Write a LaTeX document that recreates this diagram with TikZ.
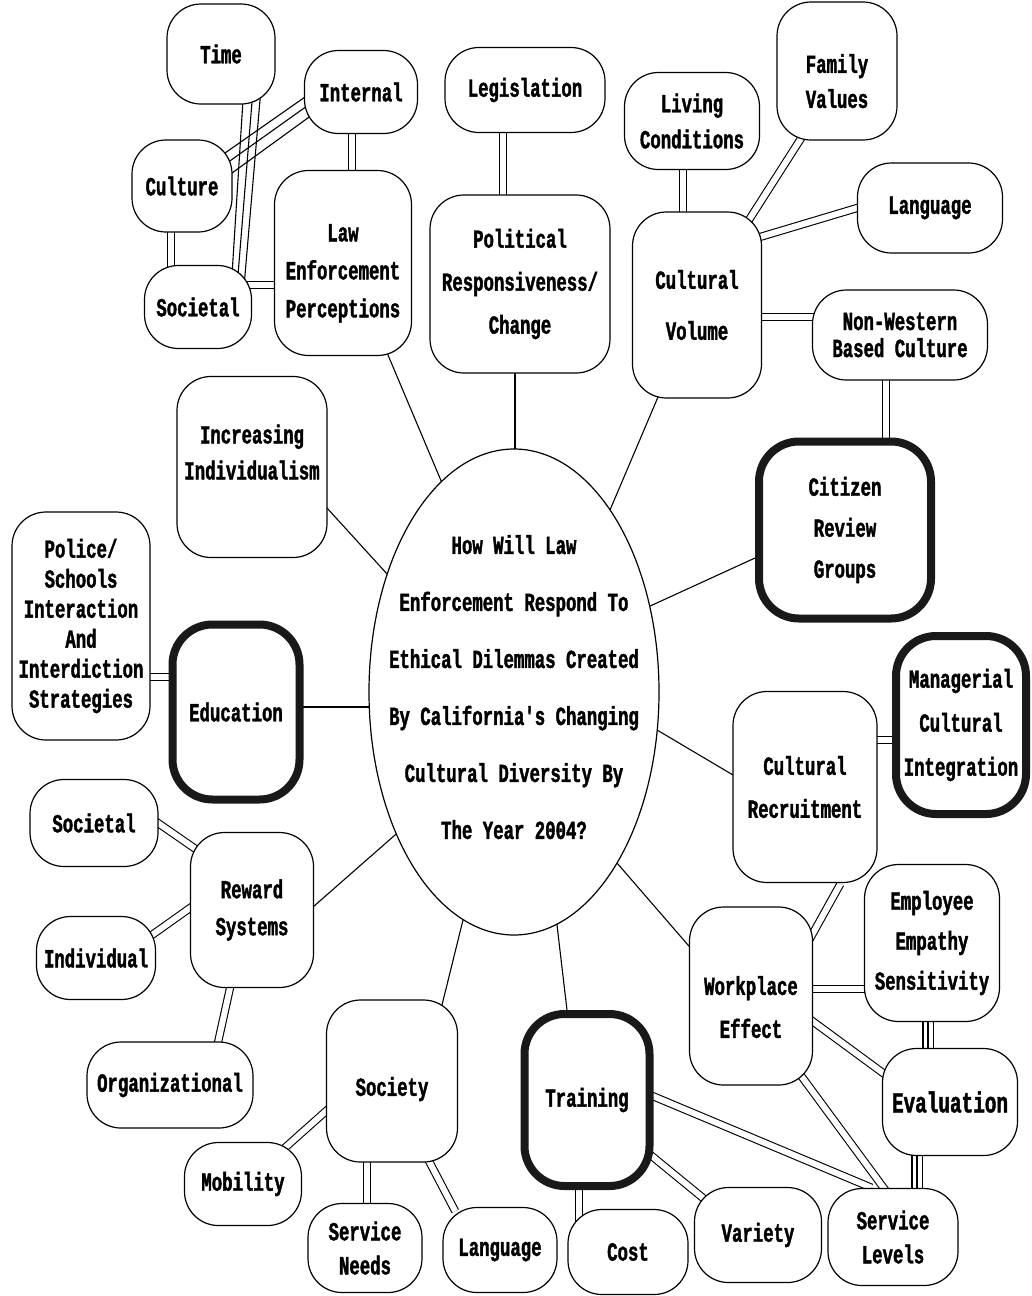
\documentclass[tikz,border=0pt]{standalone}
\usepackage{fontspec}
\newfontfamily\twf{Liberation Mono}[FakeStretch=0.667, BoldFeatures={FakeBold=1.5}]
\usetikzlibrary{shapes.geometric,backgrounds}
\tikzset{
  tx/.style={font=\twf\bfseries\fontsize{26}{#1}\selectfont},
  tx/.default=38,
  bx/.style={draw, line width=1.2pt, rounded corners=34pt, fill=white, align=center, inner sep=1pt, tx},
  thk/.style={bx, line width=8pt, draw=black!90, rounded corners=40pt},
  conn/.style={line width=1.1pt, shorten <=-7pt, shorten >=-7pt},
  dbl/.style={conn, double, double distance=#1},
  dbl/.default=6pt,
}
\begin{document}
\begin{tikzpicture}[x=1pt,y=-1pt]
\useasboundingbox (0,0) rectangle (1031,1296);
% nodes
\node[bx, minimum width=108pt, minimum height=100pt] (time) at (221,54) {Time};
\node[bx, minimum width=113pt, minimum height=83pt] (internal) at (361,92) {Internal};
\node[bx, minimum width=100pt, minimum height=92pt] (culture) at (182,186) {Culture};
\node[bx, minimum width=107pt, minimum height=83pt] (socA) at (198,307) {Societal};
\node[bx, tx=38, text height=114pt, minimum width=137pt, minimum height=185pt] (lep) at (343,263) {Law\\Enforcement\\Perceptions};
\node[bx, minimum width=160pt, minimum height=85pt] (leg) at (525,90) {Legislation};
\node[bx, tx=43, minimum width=180pt, minimum height=178pt] (pol) at (520,284) {Political\\Responsiveness/\\Change};
\node[bx, tx=36, minimum width=135pt, minimum height=97pt] (living) at (692,121) {Living\\Conditions};
\node[bx, tx=35, text height=74pt, minimum width=120pt, minimum height=138pt] (family) at (837,71) {Family\\Values};
\node[bx, tx=51, minimum width=129pt, minimum height=186pt] (cv) at (697,305) {Cultural\\Volume};
\node[bx, minimum width=145pt, minimum height=90pt] (langA) at (930,208) {Language};
\node[bx, tx=27, minimum width=175pt, minimum height=90pt] (nonw) at (900,335) {Non-Western\\Based Culture};
\node[thk, tx=41, minimum width=172pt, minimum height=177pt] (citizen) at (845,530) {Citizen\\Review\\Groups};
\node[thk, tx=44, minimum width=130pt, minimum height=178pt] (manag) at (961,725) {Managerial\\Cultural\\Integration};
\node[bx, tx=43, minimum width=144pt, minimum height=191pt] (cr) at (805,787) {Cultural\\Recruitment};
\node[bx, tx=40, minimum width=135pt, minimum height=157pt] (emp) at (932,943) {Employee\\Empathy\\Sensitivity};
\node[bx, tx=43, text height=84pt, minimum width=123pt, minimum height=178pt] (work) at (751,996) {Workplace\\Effect};
\node[bx, font=\twf\bfseries\fontsize{29}{38}\selectfont, minimum width=135pt, minimum height=107pt] (eval) at (950,1102) {Evaluation};
\node[bx, tx=34, minimum width=130pt, minimum height=97pt] (sl) at (893,1237) {Service\\Levels};
\node[bx, minimum width=127pt, minimum height=95pt] (variety) at (758,1235) {Variety};
\node[bx, minimum width=120pt, minimum height=85pt] (cost) at (628,1252) {Cost};
\node[thk, minimum width=125pt, minimum height=172pt] (training) at (587,1100) {Training};
\node[bx, minimum width=114pt, minimum height=85pt] (langB) at (500,1250) {Language};
\node[bx, tx=34, minimum width=114pt, minimum height=89pt] (sneeds) at (365,1248) {Service\\Needs};
\node[bx, text height=35pt, minimum width=131pt, minimum height=162pt] (society) at (392,1081) {Society};
\node[bx, minimum width=117pt, minimum height=83pt] (mobility) at (243,1184) {Mobility};
\node[bx, minimum width=166pt, minimum height=86pt] (org) at (170,1085) {Organizational};
\node[bx, minimum width=119pt, minimum height=83pt] (indiv) at (96,958) {Individual};
\node[bx, minimum width=128pt, minimum height=87pt] (socB) at (94,823) {Societal};
\node[bx, tx=37, minimum width=123pt, minimum height=155pt] (reward) at (252,910) {Reward\\Systems};
\node[thk, minimum width=127pt, minimum height=175pt] (educ) at (236,712) {Education};
\node[bx, tx=30, minimum width=138pt, minimum height=228pt] (police) at (81,626) {Police/\\Schools\\Interaction\\And\\Interdiction\\Strategies};
\node[bx, tx=36, text depth=30pt, minimum width=150pt, minimum height=181pt] (incr) at (252,467) {Increasing\\Individualism};
\node[ellipse, draw, line width=1.2pt, fill=white, align=center, tx=57, text depth=10pt, minimum width=290pt, minimum height=486pt, inner xsep=-60pt, inner ysep=-100pt] (q) at (514,692) {How Will Law\\Enforcement Respond To\\Ethical Dilemmas Created\\By California's Changing\\Cultural Diversity By\\The Year 2004?};
% connectors
\begin{pgfonlayer}{background}
\fill[white] (0,0) rectangle (1031,1296);
\draw[conn] ([shift={(22,46)}]time.center) -- ([shift={(34,-32)}]socA.center);
\draw[conn] ([shift={(31,48)}]time.center) -- ([shift={(40,-32)}]socA.center);
\draw[conn] ([shift={(39,46)}]time.center) -- ([shift={(47,-32)}]socA.center);
\draw[conn] ([shift={(-56,5)}]internal.center) -- ([shift={(43,-33)}]culture.center);
\draw[conn] ([shift={(-54,14)}]internal.center) -- ([shift={(45,-23)}]culture.center);
\draw[conn] ([shift={(-49,23)}]internal.center) -- ([shift={(50,-13)}]culture.center);
\draw[dbl] ([shift={(-11,46)}]culture.center) -- ([shift={(-27,-42)}]socA.center);
\draw[dbl] ([shift={(54,-22)}]socA.center) -- ([shift={(-68,22)}]lep.center);
\draw[dbl] ([shift={(-9,41)}]internal.center) -- ([shift={(9,-93)}]lep.center);
\draw[dbl] ([shift={(-22,42)}]leg.center) -- ([shift={(-17,-89)}]pol.center);
\draw[dbl] ([shift={(-9,48)}]living.center) -- ([shift={(-14,-93)}]cv.center);
\draw[dbl] ([shift={(-37,69)}]family.center) -- ([shift={(50,-82)}]cv.center);
\draw[dbl] ([shift={(-73,0)}]langA.center) -- ([shift={(63,-68)}]cv.center);
\draw[dbl] ([shift={(65,12)}]cv.center) -- ([shift={(-88,-18)}]nonw.center);
\draw[dbl] ([shift={(-14,45)}]nonw.center) -- ([shift={(41,-88)}]citizen.center);
\draw[conn] ([shift={(134,-85)}]q.center) -- ([shift={(-90,28)}]citizen.center);
\draw[conn] ([shift={(138,35)}]q.center) -- ([shift={(-72,-12)}]cr.center);
\draw[dbl] ([shift={(72,-47)}]cr.center) -- ([shift={(-65,15)}]manag.center);
\draw[dbl] ([shift={(32,103)}]cr.center) -- ([shift={(61,-61)}]work.center);
\draw[conn] ([shift={(103,171)}]q.center) -- ([shift={(-63,-51)}]work.center);
\draw[dbl] ([shift={(62,-7)}]work.center) -- ([shift={(-67,46)}]emp.center);
\draw[dbl=9pt] ([shift={(-4,79)}]emp.center) -- ([shift={(-22,-54)}]eval.center);
\draw[conn] ([shift={(-4,79)}]emp.center) -- ([shift={(-22,-54)}]eval.center);
\draw[dbl] ([shift={(64,27)}]work.center) -- ([shift={(-67,-29)}]eval.center);
\draw[dbl] ([shift={(51,81)}]work.center) -- ([shift={(-10,-50)}]sl.center);
\draw[dbl] ([shift={(68,-3)}]training.center) -- ([shift={(-28,-52)}]sl.center);
\draw[dbl] ([shift={(66,57)}]training.center) -- ([shift={(-55,-37)}]variety.center);
\draw[dbl] ([shift={(-8,88)}]training.center) -- ([shift={(-49,-32)}]cost.center);
\draw[dbl=9pt] ([shift={(-33,53)}]eval.center) -- ([shift={(24,-49)}]sl.center);
\draw[conn] ([shift={(-33,53)}]eval.center) -- ([shift={(24,-49)}]sl.center);
\draw[conn] ([shift={(43,233)}]q.center) -- ([shift={(-20,-90)}]training.center);
\draw[conn] ([shift={(-51,228)}]q.center) -- ([shift={(50,-76)}]society.center);
\draw[dbl] ([shift={(-67,31)}]society.center) -- ([shift={(45,-39)}]mobility.center);
\draw[dbl] ([shift={(-25,81)}]society.center) -- ([shift={(2,-44)}]sneeds.center);
\draw[dbl] ([shift={(38,82)}]society.center) -- ([shift={(-48,-45)}]langB.center);
\draw[conn] ([shift={(-119,143)}]q.center) -- ([shift={(61,-3)}]reward.center);
\draw[dbl] ([shift={(64,0)}]socB.center) -- ([shift={(-55,-60)}]reward.center);
\draw[dbl] ([shift={(56,-23)}]indiv.center) -- ([shift={(-62,-2)}]reward.center);
\draw[dbl] ([shift={(-22,78)}]reward.center) -- ([shift={(47,-38)}]org.center);
\draw[conn] ([shift={(-144,15)}]q.center) -- ([shift={(67,-5)}]educ.center);
\draw[dbl] ([shift={(69,51)}]police.center) -- ([shift={(-68,-35)}]educ.center);
\draw[conn] ([shift={(-126,-117)}]q.center) -- ([shift={(75,41)}]incr.center);
\draw[conn] ([shift={(-72,-209)}]q.center) -- ([shift={(45,92)}]lep.center);
\draw[conn] ([shift={(1,-242)}]q.center) -- ([shift={(-5,89)}]pol.center);
\draw[conn] ([shift={(96,-182)}]q.center) -- ([shift={(-39,92)}]cv.center);
\end{pgfonlayer}
\end{tikzpicture}
\end{document}
